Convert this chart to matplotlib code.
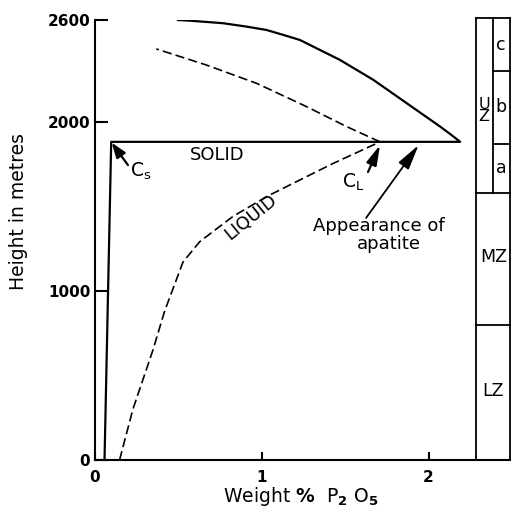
import matplotlib

matplotlib.use("Agg")
import matplotlib.pyplot as plt

# solidus: vertical rise, horizontal at apatite level, then the upper curve
solid_x = [0.06, 0.10, 2.19, 2.13, 2.07, 1.97, 1.87, 1.77, 1.67, 1.57, 1.47,
           1.35, 1.23, 1.13, 1.03, 0.91, 0.77, 0.57, 0.50]
solid_y = [0, 1880, 1880, 1926, 1970, 2039, 2108, 2177, 2246, 2305, 2364,
           2423, 2482, 2512, 2541, 2561, 2581, 2596, 2600]

# liquid below apatite appearance
liq_low_x = [0.15, 0.23, 0.35, 0.42, 0.53, 0.63, 0.83, 1.03, 1.23, 1.43, 1.71]
liq_low_y = [0, 300, 650, 880, 1170, 1290, 1440, 1556, 1655, 1753, 1880]

# liquid above apatite appearance
liq_up_x = [1.71, 1.51, 1.27, 0.97, 0.67, 0.37]
liq_up_y = [1880, 1970, 2088, 2226, 2334, 2429]

# stratigraphic column
zone_names = ["LZ", "MZ"]
zone_bounds = [0, 800, 1580]
uz_names = ["a", "b", "c"]
uz_bounds = [1580, 1870, 2300, 2610]

yticks = [0, 1000, 2000, 2600]
xticks = [0, 1, 2]

fig = plt.figure(figsize=(5.11, 5.12), dpi=100)
ax = fig.add_axes([94.5 / 511, 52 / 512, 416.5 / 511, 440 / 512])
ax.set_xlim(0, 416.5 / 167)
ax.set_ylim(0, 2600)
for s in ("top", "right"):
    ax.spines[s].set_visible(False)
for s in ("left", "bottom"):
    ax.spines[s].set_linewidth(1.5)

ax.set_yticks(yticks)
ax.set_yticklabels([str(v) for v in yticks], fontsize=11, fontweight="bold")
ax.set_xticks(xticks)
ax.set_xticklabels([str(v) for v in xticks], fontsize=11, fontweight="bold")
ax.tick_params(axis="y", direction="in", length=9.5, width=1.5, pad=3)
ax.tick_params(axis="x", direction="in", length=6, width=1.5, pad=7)

ax.plot(solid_x, solid_y, color="black", lw=1.6, solid_joinstyle="round")
ax.plot(liq_low_x, liq_low_y, color="black", lw=1.2, linestyle=(0, (5.5, 2.5)))
ax.plot(liq_up_x, liq_up_y, color="black", lw=1.2, linestyle=(0, (5.5, 2.5)))

# column outline
kw = dict(color="black", lw=1.3, clip_on=False)
xl, xm, xr = 2.283, 2.384, 2.488
ax.plot([xl, xl], [0, uz_bounds[-1]], **kw)
ax.plot([xr, xr], [0, uz_bounds[-1]], **kw)
ax.plot([xl, xr], [uz_bounds[-1], uz_bounds[-1]], **kw)
ax.plot([xm, xm], [uz_bounds[0], uz_bounds[-1]], **kw)
for b in zone_bounds[1:]:
    ax.plot([xl, xr], [b, b], **kw)
for b in uz_bounds[1:-1]:
    ax.plot([xm, xr], [b, b], **kw)
for name, lo, hi in zip(zone_names, zone_bounds[:-1], zone_bounds[1:]):
    ax.text(2.389, (lo + hi) / 2 + 10, name, fontsize=12.5, ha="center", va="center")
for name, lo, hi in zip(uz_names, uz_bounds[:-1], uz_bounds[1:]):
    ax.text(2.436, (lo + hi) / 2, name, fontsize=12.5, ha="center", va="center")
ax.text(2.333, 2065, "U\nZ", fontsize=11.5, ha="center", va="center",
        linespacing=0.8)

# labels on the curves
ax.text(0.734, 1805, "SOLID", fontsize=13, ha="center", va="center")
ax.text(0.937, 1436, "LIQUID", fontsize=13, ha="center", va="center",
        rotation=39, rotation_mode="anchor")
ax.text(0.21, 1672, r"C$_\mathrm{s}$", fontsize=13.5, ha="left", va="baseline")
ax.text(1.485, 1607, r"C$_\mathrm{L}$", fontsize=13.5, ha="left", va="baseline")
ax.text(1.704, 1380, "Appearance of", fontsize=13, ha="center", va="center")
ax.text(1.763, 1276, "apatite", fontsize=13, ha="center", va="center")

ax.annotate("", xy=(0.103, 1875), xytext=(0.20, 1743),
            arrowprops=dict(arrowstyle="-|>,head_length=0.5,head_width=0.18",
                            mutation_scale=18, lw=1.6, color="black",
                            shrinkA=0, shrinkB=0))
ax.annotate("", xy=(1.71, 1861), xytext=(1.638, 1702),
            arrowprops=dict(arrowstyle="-|>,head_length=0.6,head_width=0.16",
                            mutation_scale=20, lw=1.6, color="black",
                            shrinkA=0, shrinkB=0))
ax.annotate("", xy=(1.941, 1861), xytext=(1.626, 1430),
            arrowprops=dict(arrowstyle="-|>,head_length=0.7,head_width=0.17",
                            mutation_scale=22, lw=1.3, color="black",
                            shrinkA=0, shrinkB=0))

fig.text(19 / 511, 1 - 212 / 512, "Height in metres", fontsize=13.5,
         rotation=90, ha="center", va="center")
fig.text(301 / 511, 10 / 512, r"Weight $\mathbf{\%}$  P$_\mathbf{2}$ O$_\mathbf{5}$",
         fontsize=13.5, ha="center", va="baseline")

fig.savefig("out.png", dpi=100)
